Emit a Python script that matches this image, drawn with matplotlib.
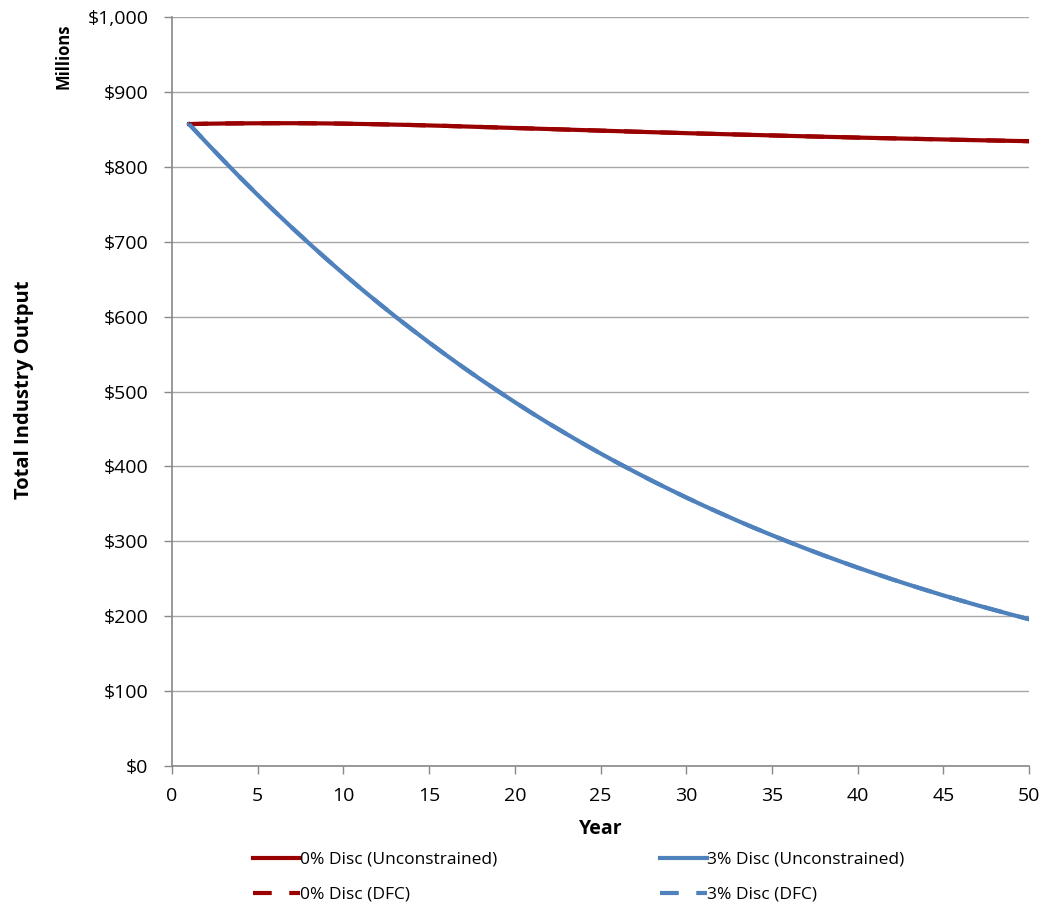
import numpy as np
import matplotlib.pyplot as plt
from matplotlib.ticker import FuncFormatter

plt.rcParams['font.family'] = ['Open Sans', 'DejaVu Sans']

years = list(range(1, 51))

# total industry output, millions of dollars
disc0 = [857.0, 857.5, 857.8, 858.0, 858.1, 858.2, 858.2, 858.1, 857.9, 857.6,
         857.2, 856.8, 856.3, 855.8, 855.2, 854.6, 853.9, 853.2, 852.5, 851.8,
         851.1, 850.4, 849.7, 849.0, 848.3, 847.6, 846.9, 846.2, 845.6, 844.9,
         844.3, 843.7, 843.1, 842.5, 841.9, 841.3, 840.7, 840.1, 839.6, 839.0,
         838.5, 838.0, 837.5, 837.0, 836.5, 836.0, 835.5, 835.1, 834.6, 834.2]
disc3 = [857.0, 832.5, 808.6, 785.2, 762.4, 740.3, 718.7, 697.7, 677.2, 657.3,
         637.8, 619.0, 600.6, 582.8, 565.4, 548.5, 532.1, 516.2, 500.8, 485.8,
         471.2, 457.1, 443.5, 430.2, 417.3, 404.8, 392.7, 380.9, 369.6, 358.5,
         347.8, 337.5, 327.4, 317.6, 308.2, 299.0, 290.1, 281.4, 273.1, 264.9,
         257.1, 249.4, 242.0, 234.8, 227.8, 221.1, 214.5, 208.2, 202.0, 196.0]
# DFC runs come out identical to the unconstrained runs
disc0_dfc = list(disc0)
disc3_dfc = list(disc3)

red = '#990000'
blue = '#4F81BD'
dash = (0, (4.5, 4.2))

fig = plt.figure(figsize=(10.44, 9.07), dpi=100)
ax = fig.add_axes([172 / 1044, 1 - 766 / 907, (1029 - 172) / 1044, (766 - 17) / 907])

ax.plot(years, disc0, color=red, lw=3, label='0% Disc (Unconstrained)', zorder=3)
ax.plot(years, disc3, color=blue, lw=3, label='3% Disc (Unconstrained)', zorder=3)
ax.plot(years, disc0_dfc, color=red, lw=3, ls=dash, label='0% Disc (DFC)', zorder=4)
ax.plot(years, disc3_dfc, color=blue, lw=3, ls=dash, label='3% Disc (DFC)', zorder=4)

ax.set_xlim(0, 50)
ax.set_ylim(0, 1000)
ax.set_xticks(range(0, 51, 5))
ax.set_yticks(range(0, 1001, 100))
ax.yaxis.set_major_formatter(FuncFormatter(lambda v, p: '${:,.0f}'.format(v)))
ax.grid(axis='y', color='#A6A6A6', lw=1)
ax.set_axisbelow(True)
for s in ['top', 'right']:
    ax.spines[s].set_visible(False)
for s in ['left', 'bottom']:
    ax.spines[s].set_color('#888888')
    ax.spines[s].set_linewidth(1.2)
ax.tick_params(axis='both', colors='#888888', labelcolor='black', labelsize=14, length=6, width=1)
ax.tick_params(axis='y', pad=11)
ax.tick_params(axis='x', pad=9)

ax.set_xlabel('Year', fontsize=14, fontweight='bold', labelpad=10)
fig.text(24 / 1044, 1 - 390 / 907, 'Total Industry Output', rotation=90, fontsize=14.5,
         fontweight='bold', ha='center', va='center')
fig.text(64 / 1044, 1 - 56 / 907, 'Millions', rotation=90, fontsize=12,
         fontweight='bold', ha='center', va='center')

h, l = ax.get_legend_handles_labels()
order = [0, 2, 1, 3]
fig.legend([h[i] for i in order], [l[i] for i in order], ncol=2, frameon=False,
           loc='upper left', bbox_to_anchor=(237 / 1044, 1 - 836 / 907),
           fontsize=12.5, handlelength=2.7, handletextpad=0.0, columnspacing=9.4,
           labelspacing=1.08)

fig.savefig('out.png', dpi=100)
